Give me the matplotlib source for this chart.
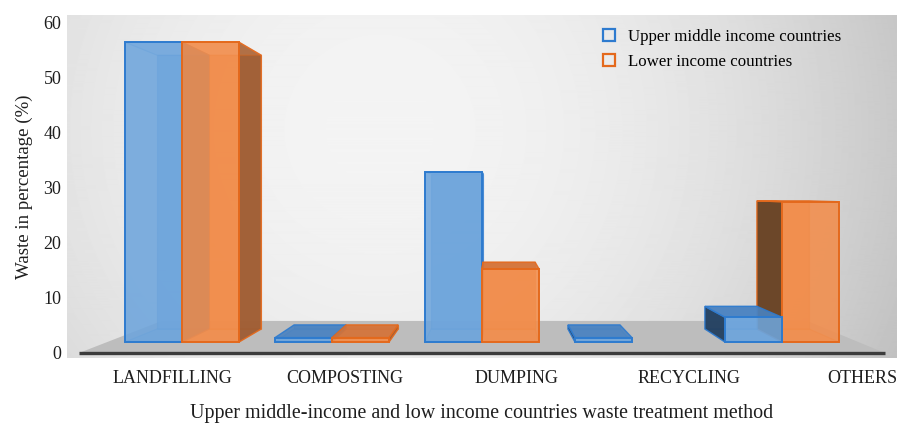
import matplotlib.pyplot as plt
import numpy as np
from matplotlib.patches import Polygon
from matplotlib.lines import Line2D
from matplotlib.colors import to_rgba

categories = ["LANDFILLING", "COMPOSTING", "DUMPING", "RECYCLING", "OTHERS"]
upper_middle = [54.5, 0.8, 30.9, 0.8, 4.5]
lower_income = [54.5, 0.8, 13.3, 0.0, 25.5]
series_names = ["Upper middle income countries", "Lower income countries"]

plt.rcParams['font.family'] = ['Liberation Serif', 'DejaVu Serif']

# colours per series: front, left side, right side, top seen from above, edge
STYLES = [
    dict(face='#6ea5dc', left='#1f3a58', right='#3f6f9f', top='#4a82c0', edge='#2e7bcf'),
    dict(face='#f28d4b', left='#5e3e22', right='#9a5a32', top='#d3733a', edge='#e4691c'),
]

BAR_W = 0.38
BASE = 2.0            # front face of bars sits a bit behind the floor front edge
VANISH = (2.08, 29.3)  # vanishing point of the fake perspective
K_BAR = 0.087
K_FLOOR = 0.199


def toward_v(x, y, k):
    return x + k * (VANISH[0] - x), y + k * (VANISH[1] - y)


def rgba(c, a):
    return to_rgba(c, a)


fig = plt.figure(figsize=(9.16, 4.23), dpi=100)
ax = fig.add_axes([67 / 916, 65 / 423, 830 / 916, 343 / 423])
ax.set_xlim(-0.767, 4.767)
ax.set_ylim(-0.91, 61.45)

# back wall gradient
W, H = 830, 343
px = np.arange(W)[None, :] + 67
py = np.arange(H)[:, None] + 15
d2 = (px - 380) ** 2 + (py - 130) ** 2
wall = np.clip(0.955 - 6.3e-7 * d2, 0.74, 1.0)
ax.imshow(wall, cmap='gray', vmin=0, vmax=1, extent=(-0.767, 4.767, -0.91, 61.45),
          aspect='auto', zorder=0, interpolation='bilinear')

# floor
fl, fr = -0.687, 4.687
floor_pts = [(fl, 0), (fr, 0), toward_v(fr, 0, K_FLOOR), toward_v(fl, 0, K_FLOOR)]
ax.add_patch(Polygon(floor_pts, closed=True, fc='#bdbdbd', ec='none', zorder=1))
ax.plot([fl, fr], [0, 0], color='#3c3c3c', lw=2.4, solid_capstyle='butt', zorder=2)

# collect bars, draw far-from-vanishing-point first
bars = []
for i in range(len(categories)):
    for s, vals in enumerate([upper_middle, lower_income]):
        if vals[i] <= 0:
            continue
        x0 = i - BAR_W if s == 0 else i
        bars.append((x0, vals[i], s))
bars.sort(key=lambda b: -abs(b[0] + BAR_W / 2 - VANISH[0]))

for x0, h, s in bars:
    st = STYLES[s]
    x1 = x0 + BAR_W
    y0, y1 = BASE, BASE + h
    f = [(x0, y0), (x1, y0), (x1, y1), (x0, y1)]
    b = [toward_v(x, y, K_BAR) for x, y in f]
    ec_soft = rgba(st['edge'], 0.4)
    ax.add_patch(Polygon(b, fc=rgba(st['face'], 0.75), ec=ec_soft, lw=0.9, zorder=3))
    ax.add_patch(Polygon([f[0], f[1], b[1], b[0]], fc=rgba(st['face'], 0.4),
                         ec=ec_soft, lw=0.9, zorder=3))
    if x0 + BAR_W / 2 < VANISH[0]:
        side, sc = [f[1], f[2], b[2], b[1]], st['right']
    else:
        side, sc = [f[0], f[3], b[3], b[0]], st['left']
    ax.add_patch(Polygon(side, fc=rgba(sc, 0.9), ec=rgba(st['edge'], 0.9), lw=1.0, zorder=3))
    top = [f[3], f[2], b[2], b[3]]
    if y1 < VANISH[1]:
        ax.add_patch(Polygon(top, fc=rgba(st['top'], 0.9), ec=rgba(st['edge'], 0.9),
                             lw=1.0, zorder=3))
    else:
        ax.add_patch(Polygon(top, fc=rgba(st['face'], 0.2), ec=ec_soft, lw=0.9, zorder=3))
    ax.bar(x0, h, width=BAR_W, bottom=BASE, align='edge', color=rgba(st['face'], 0.88),
           edgecolor=st['edge'], linewidth=1.4, zorder=3)

for sp in ax.spines.values():
    sp.set_visible(False)

ax.set_yticks(np.arange(0, 61, 10))
ax.set_xticks([-0.067 + 1.15 * i for i in range(len(categories))])
ax.set_xticklabels(categories)
ax.tick_params(axis='y', length=0, pad=4, labelsize=13, colors='#1e1e1e')
ax.tick_params(axis='x', length=0, pad=8.5, labelsize=13, colors='#1e1e1e')

ax.set_ylabel("Waste in percentage (%)", fontsize=13.6, color='#1e1e1e')
ax.yaxis.set_label_coords(-0.041, 0.5)
ax.set_xlabel("Upper middle-income and low income countries waste treatment method",
              fontsize=14.4, color='#1e1e1e')
ax.xaxis.set_label_coords(0.5, -0.133)

handles = [Line2D([], [], marker='s', ls='none', mfc='none', mec=STYLES[s]['edge'],
                  ms=9, mew=1.6) for s in range(2)]
ax.legend(handles, series_names, loc='upper left', frameon=False, fontsize=12.2,
          bbox_to_anchor=(594 / 916, 1 - 22 / 423), bbox_transform=fig.transFigure,
          handlelength=1.0, handletextpad=0.6, labelspacing=0.55, borderaxespad=0)

fig.savefig('out.png', dpi=100)
